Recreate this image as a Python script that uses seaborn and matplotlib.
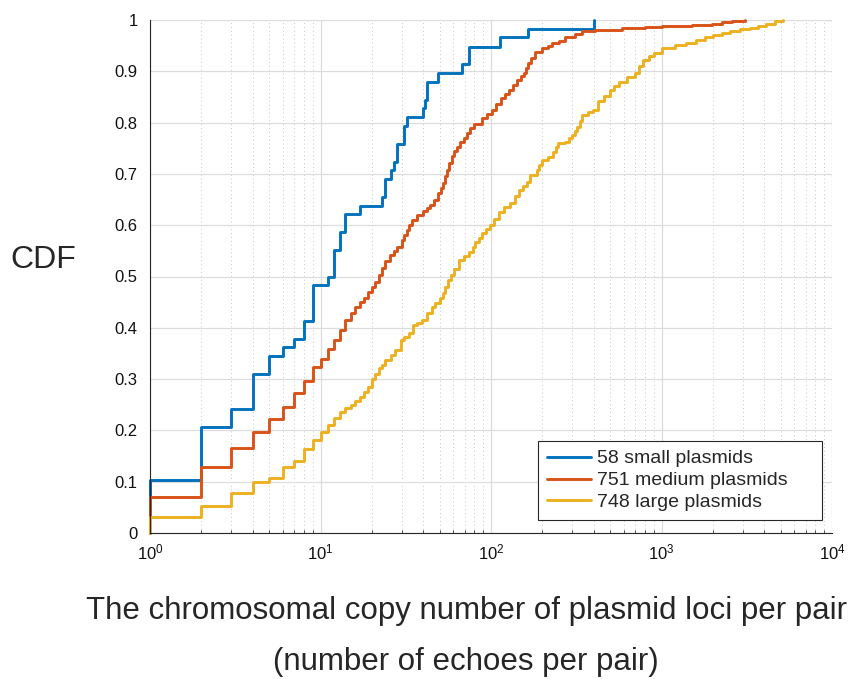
import numpy as np
import pandas as pd
import matplotlib
matplotlib.use("Agg")
import matplotlib.pyplot as plt
import matplotlib.ticker as mticker
import seaborn as sns

# series labels and MATLAB default colours
labels = ["58 small plasmids", "751 medium plasmids", "748 large plasmids"]
colors = ["#0072BD", "#D95319", "#EDB120"]

# CDF steps (x = echoes per pair, cdf = fraction)
small_x = [1, 1, 2, 3, 4, 5, 6, 7, 8, 9, 11, 12, 13, 14, 17, 23, 24, 26, 27, 28,
           31, 32, 40, 41, 42, 49, 68, 74, 113, 165, 400]
small_cdf = [0, .103, .207, .241, .310, .345, .362, .379, .414, .483, .500, .552,
             .586, .621, .638, .655, .690, .707, .724, .759, .793, .810, .828,
             .845, .879, .897, .914, .948, .966, .983, 1.0]

medium_x = [1, 1, 2, 3, 4, 5, 6, 7, 8, 9, 10, 11, 12, 13, 14, 15, 16, 17, 18, 19,
            20, 21, 22, 23, 24, 25.5, 27, 28, 30, 31, 32, 33, 34.5, 37, 40, 42, 44,
            46, 49, 51, 52, 54, 55, 57, 59, 61, 63, 66, 69, 72, 75, 80, 88, 95, 101,
            107, 114, 120, 127, 135, 142, 150, 156, 160, 164, 172, 182, 199, 215,
            228, 250, 273, 313, 342, 410, 587, 800, 1007, 1500, 1977, 2263, 2600,
            3103]
medium_cdf = [0, .071, .129, .166, .196, .222, .246, .273, .297, .323, .340, .358,
              .376, .396, .415, .428, .441, .450, .458, .469, .479, .490, .502, .516,
              .530, .542, .550, .558, .571, .581, .591, .600, .610, .620, .627, .633,
              .640, .649, .662, .672, .682, .695, .708, .721, .734, .744, .753, .762,
              .770, .779, .790, .798, .808, .816, .825, .836, .847, .856, .864, .874,
              .883, .890, .896, .906, .916, .926, .938, .945, .950, .955, .960, .966,
              .973, .979, .981, .984, .986, .988, .990, .992, .996, .998, 1.0]

large_x = [1, 1, 2, 3, 4, 5, 6, 7, 8, 9, 10, 11, 12, 13, 14, 15, 16, 17, 18, 19, 20,
           21, 22, 23, 24, 26, 27.5, 29.5, 31, 33, 35, 37, 39.5, 42, 45, 47, 50, 52,
           54, 56, 58, 61, 65, 69, 74, 78, 81, 85, 89, 94, 98, 104, 111, 119, 130,
           139, 145, 155, 163, 170, 186, 190, 200, 215, 232, 240, 248, 272, 285, 298,
           310, 320, 332, 343, 370, 399, 427, 460, 500, 530, 560, 630, 702, 740, 777,
           840, 909, 1006, 1206, 1400, 1591, 1800, 1999, 2250, 2512, 2900, 3305,
           3700, 4113, 4608, 5142]
large_cdf = [0, .032, .053, .077, .100, .107, .129, .140, .164, .181, .197, .211,
             .224, .236, .243, .250, .258, .266, .275, .285, .300, .310, .321, .328,
             .337, .347, .357, .376, .382, .389, .405, .410, .415, .428, .440, .448,
             .458, .467, .480, .493, .503, .515, .532, .540, .548, .558, .568, .576,
             .584, .592, .600, .613, .626, .635, .643, .656, .669, .677, .685, .698,
             .708, .718, .727, .733, .743, .752, .760, .763, .770, .776, .784, .792,
             .804, .815, .820, .825, .842, .852, .863, .872, .880, .888, .897, .910,
             .922, .929, .935, .946, .951, .956, .961, .966, .971, .975, .979, .982,
             .985, .988, .992, .998, 1.0]

yticks = [0, 0.1, 0.2, 0.3, 0.4, 0.5, 0.6, 0.7, 0.8, 0.9, 1]
ytick_labels = ["0", "0.1", "0.2", "0.3", "0.4", "0.5", "0.6", "0.7", "0.8", "0.9", "1"]

sns.set_style("whitegrid")
plt.rcParams["font.family"] = ["Liberation Sans", "DejaVu Sans"]

df = pd.concat([
    pd.DataFrame({"x": xs, "cdf": ys, "group": lab})
    for xs, ys, lab in zip([small_x, medium_x, large_x],
                           [small_cdf, medium_cdf, large_cdf], labels)
], ignore_index=True)

fig = plt.figure(figsize=(8.51, 6.79), dpi=100)
ax = fig.add_axes([150 / 851, 1 - 533 / 679, 682 / 851, 513 / 679])

sns.lineplot(data=df, x="x", y="cdf", hue="group", palette=colors,
             estimator=None, sort=False, drawstyle="steps-post",
             linewidth=2.1, clip_on=False, ax=ax)

ax.set_xscale("log")
ax.set_xlim(1, 1e4)
ax.set_ylim(0, 1)
ax.set_yticks(yticks)
ax.set_yticklabels(ytick_labels)
ax.xaxis.set_minor_locator(mticker.LogLocator(base=10, subs=np.arange(2, 10), numticks=50))
ax.xaxis.set_minor_formatter(mticker.NullFormatter())

# MATLAB-ish grid
ax.set_axisbelow(True)
ax.grid(True, which="major", color="#dcdcdc", lw=0.9, ls="-")
ax.grid(True, which="minor", axis="x", color="#c6c6c6", lw=0.7, ls=(0, (1, 3)))
ax.grid(False, which="minor", axis="y")

for s in ["top", "right"]:
    ax.spines[s].set_visible(False)
for s in ["left", "bottom"]:
    ax.spines[s].set_color("#262626")
    ax.spines[s].set_linewidth(0.8)

ax.tick_params(axis="both", which="both", direction="in", color="#262626",
               labelcolor="#111111", labelsize=12)
ax.tick_params(axis="both", which="major", length=4.5, width=0.8)
ax.tick_params(axis="x", which="minor", length=2.5, width=0.6, bottom=True)
ax.tick_params(axis="y", pad=9)
ax.tick_params(axis="x", pad=7)

ax.set_ylabel("CDF", rotation=0, fontsize=23, ha="center", va="center")
ax.yaxis.set_label_coords(-0.157, 0.532)
ax.set_xlabel("The chromosomal copy number of plasmid loci per pair\n(number of echoes per pair)",
              fontsize=22.5, linespacing=1.95)
ax.xaxis.set_label_coords((466 - 150) / 682, -0.122)

sns.move_legend(ax, "lower left",
                bbox_to_anchor=((538 - 150) / 682, (533 - 520) / 513, (822 - 538) / 682, 0.15),
                mode="expand", title=None, frameon=True, fancybox=False,
                edgecolor="#262626", framealpha=1, fontsize=14,
                handlelength=2.3, handletextpad=0.3, labelspacing=0.22,
                borderpad=0.45, borderaxespad=0)
leg = ax.get_legend()
leg.get_frame().set_linewidth(0.8)
for h in leg.get_lines():
    h.set_linewidth(2.1)

fig.savefig("out.png", dpi=100)
